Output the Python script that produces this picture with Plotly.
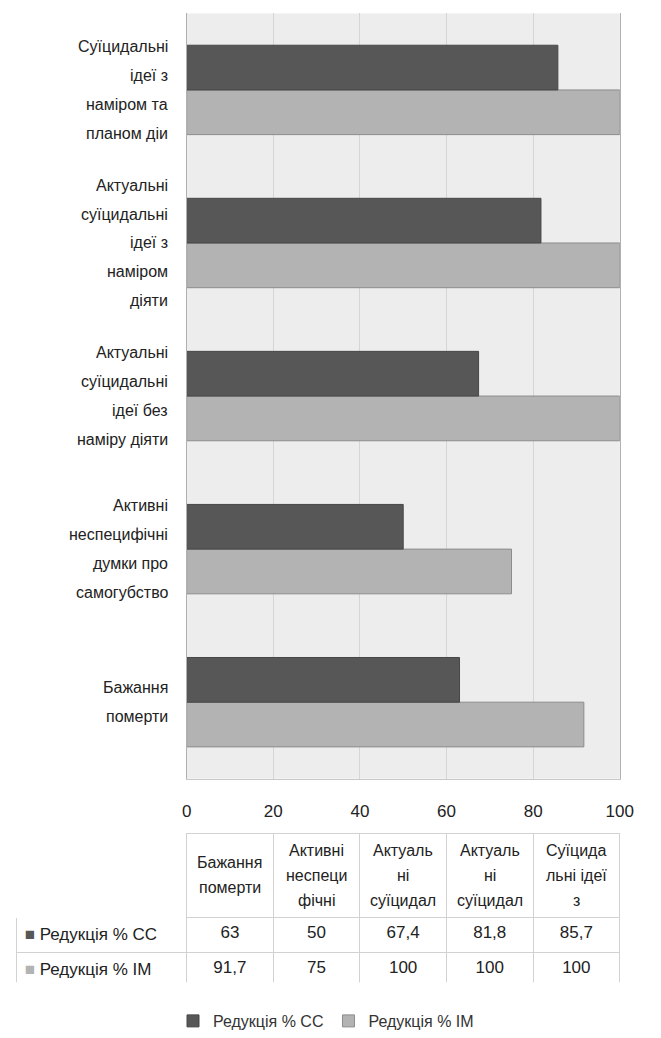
import plotly.graph_objects as go

W, H = 661, 1038

# ---- data (bottom -> top order, same as the table columns) ----
categories = [
    "Бажання померти",
    "Активні неспецифічні думки про самогубство",
    "Актуальні суїцидальні ідеї без наміру діяти",
    "Актуальні суїцидальні ідеї з наміром діяти",
    "Суїцидальні ідеї з наміром та планом дії",
]
label_lines = [
    ["Бажання", "померти"],
    ["Активні", "неспецифічні", "думки про", "самогубство"],
    ["Актуальні", "суїцидальні", "ідеї без", "наміру діяти"],
    ["Актуальні", "суїцидальні", "ідеї з", "наміром", "діяти"],
    ["Суїцидальні", "ідеї з", "наміром та", "планом діи"],
]
table_header_lines = [
    ["Бажання", "померти"],
    ["Активні", "неспеци", "фічні"],
    ["Актуаль", "ні", "суїцидал"],
    ["Актуаль", "ні", "суїцидал"],
    ["Суїцида", "льні ідеї", "з"],
]
series_names = ["Редукція % СС", "Редукція % ІМ"]
red_cc = [63, 50, 67.4, 81.8, 85.7]
red_im = [91.7, 75, 100, 100, 100]
x_ticks = [0, 20, 40, 60, 80, 100]

# ---- style / layout constants ----
FONT = "Liberation Sans, Arial, sans-serif"
C_CC = "#575757"
C_IM = "#b3b3b3"
TXT = "#222222"
TBL_X0, TBL_X1 = 12, 633          # table left / right (px)
TBL_Y0, TBL_Y1 = 839, 990         # table top / bottom (px)
LABEL_COL_W = 175
HEADER_H = 84


def fmt(v):
    return ("%g" % v).replace(".", ",")


fig = go.Figure()
fig.add_bar(
    y=categories, x=red_im, orientation="h", name=series_names[1],
    marker=dict(color=C_IM, line=dict(color="#8c8c8c", width=1)),
    legendrank=2,
)
fig.add_bar(
    y=categories, x=red_cc, orientation="h", name=series_names[0],
    marker=dict(color=C_CC, line=dict(color="#474747", width=1)),
    legendrank=1,
)

annotations = []
# multi-line category labels (one annotation per line for the wide line spacing)
LINE_STEP = 28.8
for cat, lines in zip(categories, label_lines):
    n = len(lines)
    for j, ln in enumerate(lines):
        annotations.append(dict(
            xref="paper", yref="y", x=170 / W, y=cat, xanchor="right",
            yanchor="middle", yshift=((n - 1) / 2 - j) * LINE_STEP,
            text=ln, showarrow=False,
            font=dict(family=FONT, size=16, color=TXT),
        ))

# table header labels, centred line by line in their columns
ncol = len(table_header_lines)
col_w = (TBL_X1 - TBL_X0 - LABEL_COL_W) / ncol
head_cy = 1 - (TBL_Y0 + HEADER_H / 2) / H
HEAD_STEP = 25
for k, lines in enumerate(table_header_lines):
    cx = (TBL_X0 + LABEL_COL_W + col_w * (k + 0.5)) / W
    n = len(lines)
    for j, ln in enumerate(lines):
        annotations.append(dict(
            xref="paper", yref="paper", x=cx, y=head_cy, xanchor="center",
            yanchor="middle", yshift=((n - 1) / 2 - j) * HEAD_STEP,
            text=ln, showarrow=False,
            font=dict(family=FONT, size=16, color=TXT),
        ))

# data table below the chart
row_labels = [
    "<span style='color:%s'>■</span> %s<br>" % (C_CC, series_names[0]),
    "<span style='color:%s'>■</span> %s<br>" % (C_IM, series_names[1]),
]
cell_cols = [row_labels] + [[fmt(a), fmt(b)] for a, b in zip(red_cc, red_im)]
border = "#d2d2d2"
fig.add_trace(go.Table(
    domain=dict(x=[TBL_X0 / W, TBL_X1 / W], y=[1 - TBL_Y1 / H, 1 - TBL_Y0 / H]),
    columnwidth=[LABEL_COL_W] + [col_w] * ncol,
    header=dict(
        values=[""] * (ncol + 1),
        fill_color="white",
        line=dict(color=["white"] + [border] * ncol, width=1),
        height=HEADER_H,
    ),
    cells=dict(
        values=cell_cols,
        fill_color="white",
        line=dict(color=border, width=1),
        align=["left"] + ["center"] * ncol,
        font=dict(family=FONT, size=17, color=TXT),
        height=33,
    ),
))

fig.update_layout(
    width=W, height=H,
    margin=dict(l=0, r=0, t=0, b=0),
    paper_bgcolor="white",
    plot_bgcolor="#ededed",
    barmode="group",
    bargap=0.416,
    bargroupgap=0,
    annotations=annotations,
    showlegend=True,
    legend=dict(
        orientation="h", x=0.5, xanchor="center", y=1 - 1028 / H,
        yanchor="middle", font=dict(family=FONT, size=16, color="#333333"),
    ),
    xaxis=dict(
        domain=[187 / W, 633 / W], range=[0, 100],
        tickvals=x_ticks, ticktext=[str(t) for t in x_ticks],
        showgrid=True, gridcolor="#d5d5d5", gridwidth=1,
        zeroline=False, showline=True, linecolor="#c8c8c8",
        ticks="", ticklabelstandoff=17,
        tickfont=dict(family=FONT, size=17, color=TXT),
    ),
    yaxis=dict(
        domain=[1 - 784 / H, 1 - 13.5 / H],
        showticklabels=False, showgrid=False, zeroline=False,
        showline=True, mirror=True, linecolor="#b0b0b0",
    ),
)

fig.write_html("out.html")
